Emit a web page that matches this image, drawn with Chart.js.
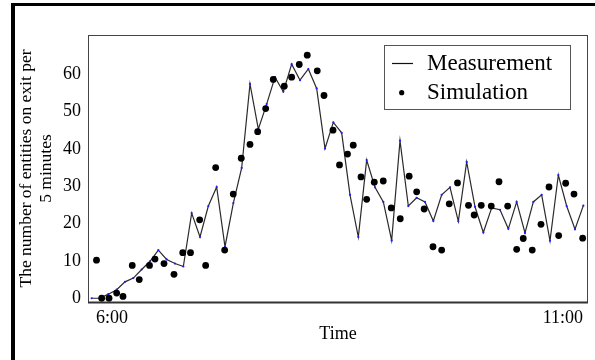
<!DOCTYPE html>
<html><head><meta charset="utf-8">
<script src="https://cdn.jsdelivr.net/npm/chart.js@4"></script>
<style>html,body{margin:0;padding:0;background:#fff;}canvas{display:block}</style>
</head><body>
<canvas id="c" width="595" height="360"></canvas>
<script>
// Measurement: one value per 5-minute interval (index 0..59)
const measurement = [0,0,1.1,2.3,4.4,5.4,7.7,9.9,12.9,10.4,
  9.3,8.5,22.8,16.4,24.7,29.8,13.8,25.5,34.9,57.4,
  45.3,52,59.2,55.3,62.7,58.4,61.4,56.2,40.1,47.1,
  44.3,27.7,16.4,37,29.7,25.8,15.5,42.2,24.7,26.9,
  25.8,20.7,27.7,29.7,20.6,36.5,24.5,17.6,24.2,23.7,
  18.6,25.8,17.5,25.8,27.7,15.4,33,24.7,18.5,24.8];
// Simulation points (x in interval units)
const simX = [0.58,1.2,2.08,3.0,3.76,4.87,5.71,6.94,7.6,8.68,
  9.88,10.93,11.86,12.96,13.68,14.88,15.96,16.99,17.95,19.0,
  19.92,20.88,21.79,23.11,24.0,24.91,25.87,27.07,27.88,28.96,
  29.74,30.7,31.39,32.32,33.0,33.91,34.99,35.95,37.03,38.1,
  39.0,39.9,40.96,42.0,42.91,43.9,45.22,45.9,46.75,47.95,
  48.88,49.92,51.0,51.79,52.87,53.92,54.88,56.04,56.88,57.88,58.92];
const simY = [10.2,0,0,1.4,0.5,8.8,5,8.8,10.5,9.3,
  6.4,12.2,12.2,21,8.8,35,12.9,27.9,37.5,41.2,
  44.6,50.8,58.6,56.8,59.2,62.6,65.1,60.9,54.3,45,
  35.7,38.6,41,32.5,26.5,31.1,31.4,24.2,21.3,32.7,
  28.5,23.9,13.8,12.9,25.3,30.9,24.9,22.3,24.9,24.7,
  31.2,24.7,13.1,16,12.9,19.8,29.8,16.8,30.8,27.9,16.1];
const yTicks = [0,10,20,30,40,50,60];
const xTickPos = [2.45,56.55];
const xTickLabels = ['6:00','11:00'];
const seriesNames = ['Measurement','Simulation'];
const yTitle = ['The number of entities on exit per','5 minutes'];
const xTitle = 'Time';

const SERIF = '"Liberation Serif", "Times New Roman", serif';

const decor = {
  id: 'decor',
  beforeDraw(chart) {
    const ctx = chart.ctx;
    ctx.save();
    ctx.fillStyle = '#fff';
    ctx.fillRect(0,0,chart.width,chart.height);
    ctx.restore();
  },
  afterDraw(chart) {
    const ctx = chart.ctx;
    const a = chart.chartArea;
    ctx.save();
    // plot frame
    ctx.strokeStyle = '#444';
    ctx.lineWidth = 1;
    ctx.strokeRect(a.left + 0.5, a.top + 0.5, a.right - a.left - 1, a.bottom - a.top);
    ctx.strokeStyle = '#333';
    ctx.lineWidth = 2;
    ctx.beginPath(); ctx.moveTo(a.left, a.bottom + 0.5); ctx.lineTo(a.right, a.bottom + 0.5); ctx.stroke();
    // legend box
    ctx.fillStyle = '#fff';
    ctx.fillRect(384.5, 45.5, 186, 64);
    ctx.strokeStyle = '#555';
    ctx.lineWidth = 1;
    ctx.strokeRect(384.5, 45.5, 186, 64);
    ctx.strokeStyle = '#111';
    ctx.lineWidth = 1.2;
    ctx.beginPath(); ctx.moveTo(392, 63.5); ctx.lineTo(413, 63.5); ctx.stroke();
    ctx.fillStyle = '#000';
    ctx.beginPath(); ctx.arc(401.7, 92.7, 2.6, 0, Math.PI*2); ctx.fill();
    ctx.font = '23px ' + SERIF;
    ctx.textBaseline = 'alphabetic';
    ctx.textAlign = 'left';
    ctx.fillText(seriesNames[0], 427, 70);
    ctx.fillText(seriesNames[1], 427, 99);
    // outer border (left and top)
    ctx.fillStyle = '#000';
    ctx.fillRect(11, 3, 4, 360);
    ctx.fillRect(11, 3, 590, 3);
    ctx.restore();
  }
};

new Chart(document.getElementById('c'), {
  type: 'scatter',
  data: {
    datasets: [
      {
        label: seriesNames[1],
        data: simX.map((x,i) => ({x, y: simY[i]})),
        showLine: false,
        pointRadius: 3.4,
        pointBackgroundColor: '#000',
        pointBorderWidth: 0,
        order: 0
      },
      {
        label: seriesNames[0],
        data: measurement.map((y,i) => ({x: i, y})),
        showLine: true,
        borderColor: '#2a2a2a',
        borderWidth: 1.2,
        tension: 0,
        pointRadius: 1.1,
        pointBackgroundColor: '#1c1cff',
        pointBorderWidth: 0,
        order: 1
      }
    ]
  },
  options: {
    responsive: false,
    animation: false,
    devicePixelRatio: 1,
    layout: { padding: { left: 0, right: 7, top: 35, bottom: 0 } },
    plugins: { legend: { display: false }, tooltip: { enabled: false } },
    scales: {
      x: {
        type: 'linear',
        min: -0.44, max: 59.56,
        grid: { display: false, drawTicks: false },
        border: { display: false },
        afterBuildTicks: s => { s.ticks = xTickPos.map(v => ({value: v})); },
        afterFit: s => { s.height = 58; },
        ticks: {
          autoSkip: false, maxRotation: 0, minRotation: 0, padding: 5,
          color: '#000', font: { family: SERIF, size: 18 },
          callback: (v, i) => xTickLabels[i]
        },
        title: { display: true, text: xTitle, color: '#000',
          font: { family: SERIF, size: 18 }, padding: { top: 0, bottom: 15 } }
      },
      y: {
        min: -1, max: 70.5,
        grid: { display: false, drawTicks: false },
        border: { display: false },
        afterBuildTicks: s => { s.ticks = yTicks.map(v => ({value: v})); },
        afterFit: s => { s.width = 88; },
        ticks: { padding: 7, color: '#000', font: { family: SERIF, size: 18 } },
        title: { display: true, text: yTitle, color: '#000',
          font: { family: SERIF, size: 17.5, lineHeight: 1.15 }, padding: { top: 16, bottom: 0 } }
      }
    }
  },
  plugins: [decor]
});
</script>
</body></html>
